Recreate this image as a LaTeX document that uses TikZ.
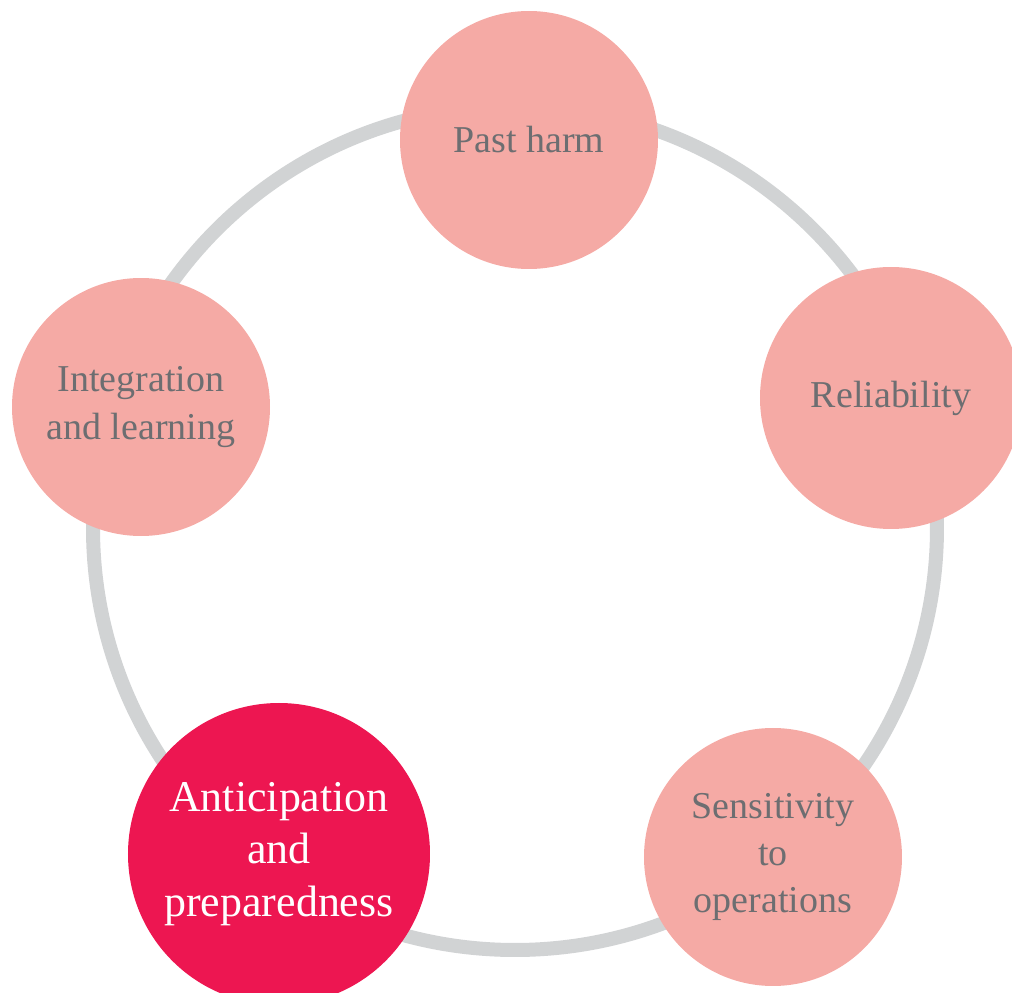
\documentclass[tikz,border=0pt]{standalone}
\usepackage{fontspec}
\setmainfont{Liberation Serif}

\definecolor{ringgray}{RGB}{209,211,212}
\definecolor{stagepink}{RGB}{245,170,165}
\definecolor{stagered}{RGB}{237,22,81}
\definecolor{labelgray}{RGB}{109,110,113}

\begin{document}
\begin{tikzpicture}[
  stage/.style={circle, fill=stagepink, text=labelgray, minimum size=2.58cm, inner sep=0pt, align=center,
    font=\fontsize{10.8}{13.4}\selectfont},
  focus/.style={stage, fill=stagered, text=white, minimum size=3.02cm,
    font=\fontsize{12.5}{14.9}\selectfont},
]
\useasboundingbox (0,0) rectangle (10.12,-9.93);

% the cycle behind the stages
\draw[ringgray, line width=0.14cm] (5.15,-5.28) circle (4.22);

\node[stage] (harm) at (5.29,-1.40) {Past harm};
\node[stage, minimum size=2.62cm] (reliab) at (8.91,-3.98) {Reliability};
\node[stage] (sensit) at (7.73,-8.57) {Sensitivity\\to\\operations};
\node[focus] (anticip) at (2.79,-8.54) {Anticipation\\and\\preparedness};
\node[stage] (integr) at (1.41,-4.07) {Integration\\and learning};

\end{tikzpicture}
\end{document}
